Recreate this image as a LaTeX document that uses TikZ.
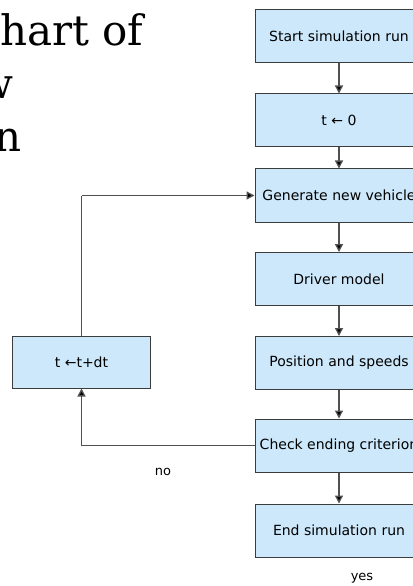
\documentclass[tikz,border=0pt]{standalone}
\usepackage{fontspec}
\setmainfont{DejaVu Sans}
\newfontfamily\titlefont{DejaVu Serif}
\usetikzlibrary{arrows.meta,positioning}
\definecolor{boxfill}{RGB}{204,232,250}
\definecolor{boxline}{RGB}{60,60,60}
\definecolor{linkline}{RGB}{80,80,80}
\tikzset{
  stepbox/.style={draw=boxline, fill=boxfill, line width=1bp,
    minimum width=168bp, minimum height=53bp, inner sep=0pt,
    font=\fontsize{14bp}{16bp}\selectfont, text=black},
  loopbox/.style={stepbox, minimum width=137bp, minimum height=52bp},
  link/.style={draw=linkline, line width=1.3bp,
    -{Triangle[width=8bp,length=8bp,fill=black]}},
  plain/.style={draw=linkline, line width=1.3bp},
  titletext/.style={anchor=base west, inner sep=0pt,
    font=\titlefont\fontsize{42bp}{50bp}\selectfont},
  note/.style={inner sep=0pt, font=\fontsize{13bp}{15bp}\selectfont}
}
\begin{document}
\begin{tikzpicture}[x=1bp,y=-1bp]
  \useasboundingbox (0,0) rectangle (412,586);
  \fill[white] (0,0) rectangle (412,586);

  % heading lines running off the left edge
  \node[titletext] (h1) at (0,46) {hart of};
  \node[titletext] (h2) at (-23,99) {w};
  \node[titletext] (h3) at (-6,152) {n};

  % main chain of steps
  \node[stepbox] (start) at (339,36.5) {Start simulation run};
  \node[stepbox] (init)  at (339,120.5) {t ← 0};
  \node[stepbox] (gen)   at (339,195.5) {Generate new vehicle};
  \node[stepbox] (drv)   at (339,279) {Driver model};
  \node[stepbox] (pos)   at (339,363) {Position and speeds};
  \node[stepbox] (chk)   at (339,445.5) {Check ending criterion};
  \node[stepbox] (stop)  at (339,530.5) {End simulation run};

  % time step box on the loop
  \node[loopbox] (inc) at (81.5,362) {t ←t+dt};

  \draw[link] (start) -- (init);
  \draw[link] (init) -- (gen);
  \draw[link] (gen) -- (drv);
  \draw[link] (drv) -- (pos);
  \draw[link] (pos) -- (chk);
  \draw[link] (chk) -- (stop);

  % loop back through the time step
  \coordinate (lowcorner) at (inc.south |- chk.west);
  \coordinate (highcorner) at (inc.north |- gen.west);
  \draw[plain] (chk.west) -- (lowcorner);
  \draw[link] (lowcorner) -- (inc.south);
  \draw[plain] (inc.north) -- (highcorner);
  \draw[link] (highcorner) -- (gen.west);

  \node[note] (no)  at (163,472) {no};
  \node[note] (yes) at (362,578) {yes};
\end{tikzpicture}
\end{document}
